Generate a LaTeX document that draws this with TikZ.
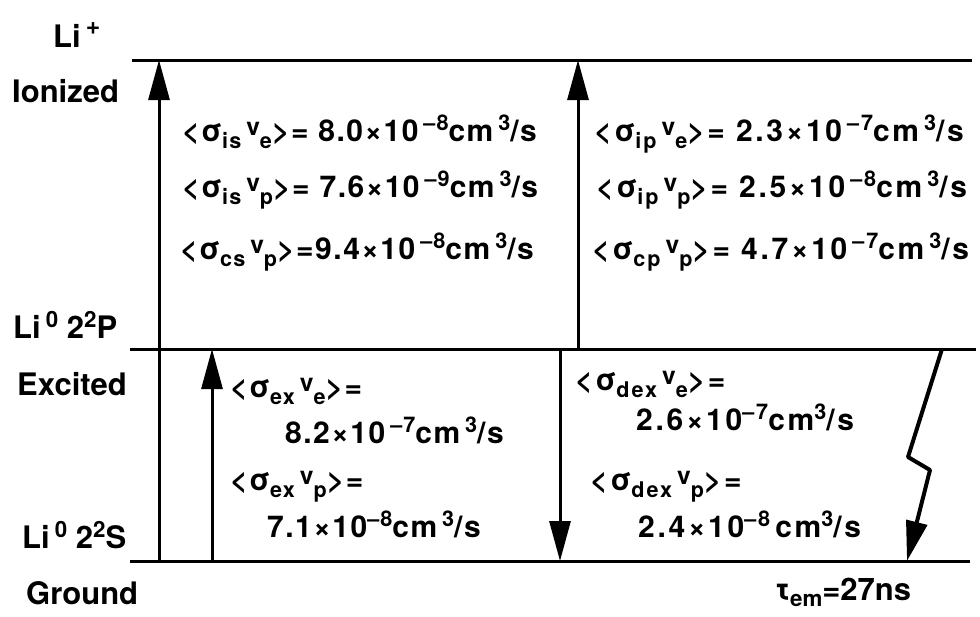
\documentclass[tikz,border=0pt]{standalone}
\usepackage{fontspec}
\setmainfont{TeX Gyre Heros}
\newfontfamily\ratefont{TeX Gyre Heros}[LetterSpace=5]
\newfontfamily\ratefontw{TeX Gyre Heros}[LetterSpace=9]
\usetikzlibrary{arrows.meta}

% small raised / lowered pieces of the rate labels
\newcommand{\dn}[1]{\raisebox{-0.25em}{\scalebox{0.72}{#1}}}
\newcommand{\up}[1]{\raisebox{0.35em}{\scalebox{0.72}{#1}}}
\newcommand{\rate}[2]{<σ\dn{#1}\,\raisebox{0.2em}{\scalebox{0.82}{v}}\dn{#2}>}

\begin{document}
\begin{tikzpicture}[x=1pt,y=-1pt,
    level/.style={line width=3pt},
    trans/.style={line width=3pt,-{Triangle[length=40pt,width=21pt]}},
    lbl/.style={anchor=base west,inner sep=0pt,font=\fontsize{31}{36}\selectfont\bfseries},
    val/.style={anchor=base west,inner sep=0pt,font=\fontsize{30}{34}\ratefont\bfseries},
    valw/.style={val,font=\fontsize{30}{34}\ratefontw\bfseries}]
  \useasboundingbox (0,0) rectangle (980,616);

  % level positions
  \def\yi{60}   % Li+
  \def\ye{349}  % 2P
  \def\yg{561}  % 2S

  % energy levels
  \coordinate (ionA) at (132,\yi);  \coordinate (ionB) at (972,\yi);
  \coordinate (excA) at (130,\ye);  \coordinate (excB) at (976,\ye);
  \coordinate (gndA) at (130,\yg);  \coordinate (gndB) at (970,\yg);
  \draw[level] (ionA) -- (ionB);
  \draw[level] (excA) -- (excB);
  \draw[level] (gndA) -- (gndB);

  % level names
  \node[lbl] (liplus) at (53,47) {Li\,\raisebox{0.4em}{\scalebox{0.8}{+}}};
  \node[lbl] (ionized) at (12,102) {Ionized};
  \node[lbl] (lip) at (13,338) {Li\,\up{0} 2\up{2}P};
  \node[lbl] (excited) at (17,395) {Excited};
  \node[lbl] (lis) at (22,548) {Li\,\up{0} 2\up{2}S};
  \node[lbl] (ground) at (26,604) {Ground};

  % ionization from ground and from excited state
  \coordinate (s1) at (159,\yg); \coordinate (i1) at (159,\yi);
  \coordinate (p1) at (578,\ye); \coordinate (i2) at (578,\yi);
  \draw[trans] (s1) -- (i1);
  \draw[trans] (p1) -- (i2);

  % excitation and de-excitation
  \coordinate (s2) at (212,\yg); \coordinate (p2) at (212,\ye);
  \coordinate (p3) at (560,\ye); \coordinate (s3) at (560,\yg);
  \draw[trans] (s2) -- (p2);
  \draw[trans] (p3) -- (s3);

  % radiative decay
  \coordinate (p4) at (942,\ye);
  \coordinate (k1) at (908,457);
  \coordinate (k2) at (930,470);
  \coordinate (s4) at (907,\yg);
  \draw[trans,line width=4pt,line join=round] (p4) -- (k1) -- (k2) -- (s4);

  % ionization rates
  \node[val] (is1) at (182,141) {\rate{is}{e}= 8.0×10\,\up{–8}cm\,\up{3}/s};
  \node[val] (is2) at (182,197) {\rate{is}{p}= 7.6×10\,\up{–9}cm\,\up{3}/s};
  \node[val] (cs)  at (180,259) {\rate{cs}{p}=9.4×10\,\up{–8}cm\,\up{3}/s};
  \node[valw] (ip1) at (594,141) {\rate{ip}{e}= 2.3×10\,\up{–7}cm\,\up{3}/s};
  \node[valw] (ip2) at (596,197) {\rate{ip}{p}= 2.5×10\,\up{–8}cm\,\up{3}/s};
  \node[valw] (cp)  at (592,259) {\rate{cp}{p}= 4.7×10\,\up{–7}cm\,\up{3}/s};

  % excitation rates
  \node[val] (ex1) at (230,397) {\rate{ex}{e}=};
  \node[val] (ex1v) at (285,443) {8.2×10\,\up{–7}cm\,\up{3}/s};
  \node[val] (ex2) at (230,490) {\rate{ex}{p}=};
  \node[val] (ex2v) at (267,537) {7.1×10\up{–8}cm\,\up{3}/s};
  \node[valw] (dex1) at (575,390) {\rate{dex}{e}=};
  \node[valw] (dex1v) at (636,430) {2.6×10\up{–7}cm\up{3}/s};
  \node[valw] (dex2) at (590,490) {\rate{dex}{p}=};
  \node[valw] (dex2v) at (638,537) {2.4×10\up{–8}\,cm\up{3}/s};

  % lifetime
  \node[lbl] (tau) at (775,600) {τ\raisebox{-0.2em}{\scalebox{0.72}{em}}=27ns};
\end{tikzpicture}
\end{document}
